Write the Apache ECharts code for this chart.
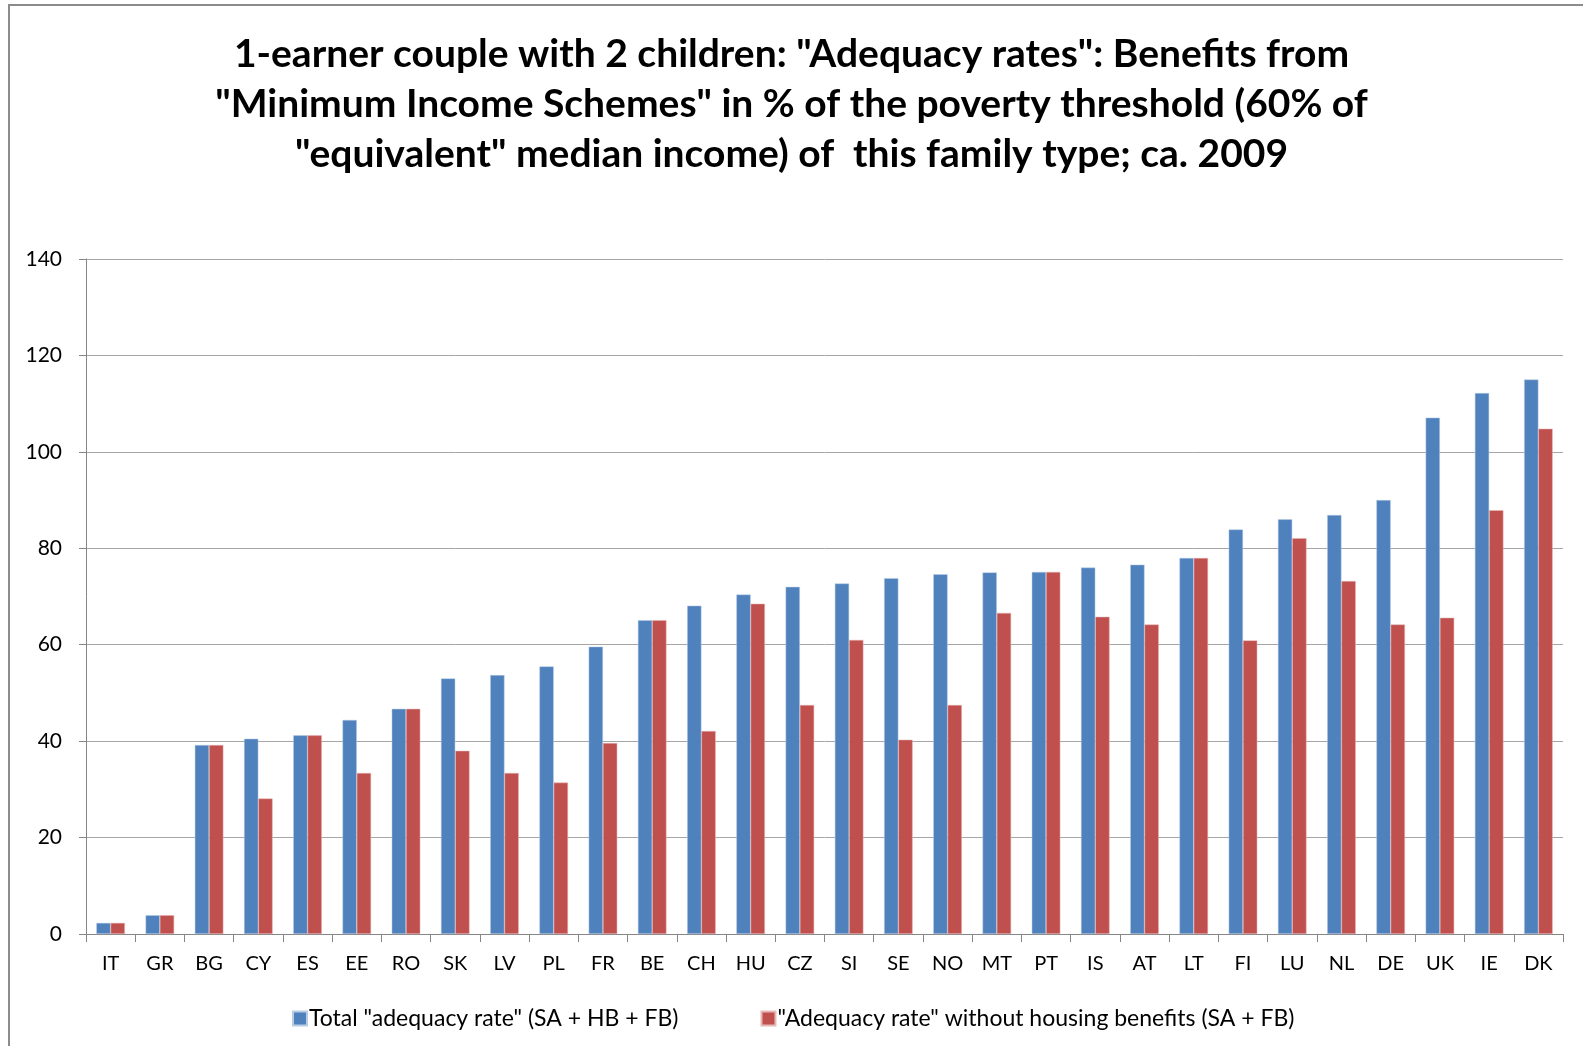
<!DOCTYPE html>
<html style="height: 100%">
<head>
    <meta charset="utf-8">
    <script src="https://cdn.jsdelivr.net/npm/echarts@6/dist/echarts.min.js"></script>
</head>
<body style="height: 100%; margin: 0; background: #fff">
    <div id="main" style="width: 1583px; height: 1046px"></div>
    <script type="text/javascript">
        // countries, sorted by total rate
        var countries = ['IT', 'GR', 'BG', 'CY', 'ES', 'EE', 'RO', 'SK', 'LV', 'PL',
            'FR', 'BE', 'CH', 'HU', 'CZ', 'SI', 'SE', 'NO', 'MT', 'PT',
            'IS', 'AT', 'LT', 'FI', 'LU', 'NL', 'DE', 'UK', 'IE', 'DK'];

        // Total "adequacy rate" (SA + HB + FB)
        var totalRate = [2.3, 3.9, 39.2, 40.5, 41.2, 44.4, 46.7, 53.0, 53.7, 55.5,
            59.6, 65.1, 68.1, 70.4, 72.0, 72.7, 73.8, 74.6, 75.0, 75.1,
            76.0, 76.6, 78.0, 83.9, 86.0, 86.9, 90.0, 107.1, 112.2, 115.0];

        // "Adequacy rate" without housing benefits (SA + FB)
        var withoutHousing = [2.3, 3.9, 39.2, 28.1, 41.2, 33.4, 46.7, 38.0, 33.4, 31.4,
            39.6, 65.1, 42.1, 68.5, 47.5, 61.0, 40.3, 47.5, 66.6, 75.1,
            65.8, 64.2, 78.0, 60.9, 82.1, 73.2, 64.2, 65.6, 87.9, 104.8];

        var yTicks = { min: 0, max: 140, interval: 20 };

        var legendNames = ['Total "adequacy rate" (SA + HB + FB)',
            '"Adequacy rate" without housing benefits (SA + FB)'];

        var font = 'Lato, "Open Sans", sans-serif';

        var myChart = echarts.init(document.getElementById('main'));

        var option = {
            backgroundColor: '#fff',
            animation: false,
            title: {
                text: '1-earner couple with 2 children: "Adequacy rates": Benefits from\n"Minimum Income Schemes" in % of the poverty threshold (60% of\n"equivalent" median income) of  this family type; ca. 2009',
                left: 'center',
                top: 24,
                textStyle: {
                    fontFamily: font,
                    fontWeight: 'bold',
                    fontSize: 39,
                    lineHeight: 50,
                    color: '#000'
                }
            },
            legend: {
                data: legendNames,
                left: 287,
                top: 1002,
                itemWidth: 14,
                itemHeight: 14,
                itemGap: 82,
                icon: 'rect',
                textStyle: { fontFamily: font, fontSize: 23, color: '#000', padding: [0, 0, 0, -3] }
            },
            grid: {
                left: 86,
                right: 20,
                top: 259,
                bottom: 112
            },
            xAxis: {
                type: 'category',
                data: countries,
                axisLine: { lineStyle: { color: '#868686', width: 1 } },
                axisTick: { show: true, length: 8, lineStyle: { color: '#868686' } },
                axisLabel: { fontFamily: font, fontSize: 20, color: '#000', margin: 20, interval: 0 }
            },
            yAxis: {
                type: 'value',
                min: yTicks.min,
                max: yTicks.max,
                interval: yTicks.interval,
                axisLine: { show: true, lineStyle: { color: '#868686', width: 1 } },
                axisTick: { show: true, length: 7, lineStyle: { color: '#868686' } },
                axisLabel: { fontFamily: font, fontSize: 21, color: '#000', margin: 24 },
                splitLine: { lineStyle: { color: '#a6a6a6', width: 1 } }
            },
            series: [
                {
                    name: legendNames[0],
                    type: 'bar',
                    data: totalRate,
                    barGap: '0%',
                    barCategoryGap: '42%',
                    itemStyle: { color: '#4F81BD', borderColor: '#b9cde5', borderWidth: 0.5 }
                },
                {
                    name: legendNames[1],
                    type: 'bar',
                    data: withoutHousing,
                    itemStyle: { color: '#C0504D', borderColor: '#e6b9b8', borderWidth: 0.5 }
                }
            ],
            graphic: [
                {
                    type: 'rect',
                    shape: { x: 9, y: 5, width: 1600, height: 1100 },
                    style: { fill: 'none', stroke: '#8c8c8c', lineWidth: 2 },
                    silent: true
                }
            ]
        };

        myChart.setOption(option);
    </script>
</body>
</html>
